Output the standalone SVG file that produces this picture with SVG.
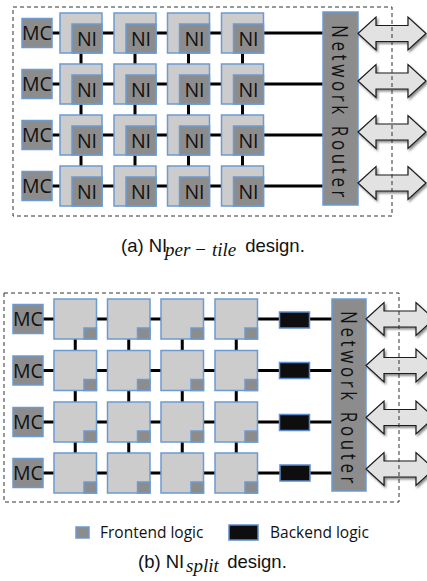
<svg xmlns="http://www.w3.org/2000/svg" xmlns:xlink="http://www.w3.org/1999/xlink" width="427" height="581" viewBox="0 0 427 581">
<style>
.tile{fill:#cccccc;stroke:#6b9bd1;stroke-width:1.5}
.ni{fill:#8c8c8c;stroke:#6b9bd1;stroke-width:1.5}
.be{fill:#0e0e0e;stroke:#5b8bd0;stroke-width:1.5}
.wire{stroke:#000;stroke-width:3;fill:none}
.arrow{fill:#e2e2e2;stroke:#1a1a1a;stroke-width:1.2;filter:url(#sh)}
.frame{fill:none;stroke:#333;stroke-width:1;stroke-dasharray:4 3}
.lbl{font-family:"Open Sans","Liberation Sans",sans-serif;font-size:19.5px;fill:#111;text-anchor:middle}
.rt{font-family:"Open Sans","Liberation Sans",sans-serif;font-size:17px;fill:#111;letter-spacing:3.6px}
.leg{font-family:"Open Sans","Liberation Sans",sans-serif;font-size:15.5px;fill:#111}
.cap{font-family:"Liberation Sans",Arial,sans-serif;font-size:18.5px;fill:#111}
.sub{font-family:"Liberation Serif","Times New Roman",serif;font-style:italic;font-size:19px}
</style>
<defs>
<filter id="sh" x="-20%" y="-20%" width="150%" height="160%">
<feDropShadow dx="1.5" dy="2" stdDeviation="1.2" flood-color="#000" flood-opacity="0.45"/>
</filter>
<path id="arr" d="M0,0 L18,-16.5 L18,-8 L50,-8 L50,-16.5 L68,0 L50,16.5 L50,8 L18,8 L18,16.5 Z"/>
</defs>

<!-- connectors -->
<g id="connectors" class="wire">
<path d="M52,33H323M52,84H323M52,135H323M52,186H323"/>
<path d="M81,33V186M135,33V186M188.5,33V186M242.5,33V186"/>
<path d="M43,319H332M43,370.5H332M43,422H332M43,473H332"/>
<path d="M75.25,319V473M128.75,319V473M182.25,319V473M236.25,319V473"/>
</g>

<!-- top panel: MC -->
<g id="a-mc1"><rect class="ni" x="22" y="18.5" width="30" height="29"/><text class="lbl" x="37" y="40">MC</text></g>
<g id="a-mc2"><rect class="ni" x="22" y="69.5" width="30" height="29"/><text class="lbl" x="37" y="91">MC</text></g>
<g id="a-mc3"><rect class="ni" x="22" y="120.5" width="30" height="29"/><text class="lbl" x="37" y="142">MC</text></g>
<g id="a-mc4"><rect class="ni" x="22" y="171.5" width="30" height="29"/><text class="lbl" x="37" y="193">MC</text></g>

<!-- top panel tiles -->
<g id="a-t11"><rect class="tile" x="60" y="13" width="42" height="40"/><rect class="ni" x="72" y="24" width="30" height="29"/><text class="lbl" x="87" y="45.5">NI</text></g>
<g id="a-t12"><rect class="tile" x="114" y="13" width="42" height="40"/><rect class="ni" x="126" y="24" width="30" height="29"/><text class="lbl" x="141" y="45.5">NI</text></g>
<g id="a-t13"><rect class="tile" x="167.5" y="13" width="42" height="40"/><rect class="ni" x="179.5" y="24" width="30" height="29"/><text class="lbl" x="194.5" y="45.5">NI</text></g>
<g id="a-t14"><rect class="tile" x="221.5" y="13" width="42" height="40"/><rect class="ni" x="233.5" y="24" width="30" height="29"/><text class="lbl" x="248.5" y="45.5">NI</text></g>

<g id="a-t21"><rect class="tile" x="60" y="64" width="42" height="40"/><rect class="ni" x="72" y="75" width="30" height="29"/><text class="lbl" x="87" y="96.5">NI</text></g>
<g id="a-t22"><rect class="tile" x="114" y="64" width="42" height="40"/><rect class="ni" x="126" y="75" width="30" height="29"/><text class="lbl" x="141" y="96.5">NI</text></g>
<g id="a-t23"><rect class="tile" x="167.5" y="64" width="42" height="40"/><rect class="ni" x="179.5" y="75" width="30" height="29"/><text class="lbl" x="194.5" y="96.5">NI</text></g>
<g id="a-t24"><rect class="tile" x="221.5" y="64" width="42" height="40"/><rect class="ni" x="233.5" y="75" width="30" height="29"/><text class="lbl" x="248.5" y="96.5">NI</text></g>

<g id="a-t31"><rect class="tile" x="60" y="115" width="42" height="40"/><rect class="ni" x="72" y="126" width="30" height="29"/><text class="lbl" x="87" y="147.5">NI</text></g>
<g id="a-t32"><rect class="tile" x="114" y="115" width="42" height="40"/><rect class="ni" x="126" y="126" width="30" height="29"/><text class="lbl" x="141" y="147.5">NI</text></g>
<g id="a-t33"><rect class="tile" x="167.5" y="115" width="42" height="40"/><rect class="ni" x="179.5" y="126" width="30" height="29"/><text class="lbl" x="194.5" y="147.5">NI</text></g>
<g id="a-t34"><rect class="tile" x="221.5" y="115" width="42" height="40"/><rect class="ni" x="233.5" y="126" width="30" height="29"/><text class="lbl" x="248.5" y="147.5">NI</text></g>

<g id="a-t41"><rect class="tile" x="60" y="166" width="42" height="40"/><rect class="ni" x="72" y="177" width="30" height="29"/><text class="lbl" x="87" y="198.5">NI</text></g>
<g id="a-t42"><rect class="tile" x="114" y="166" width="42" height="40"/><rect class="ni" x="126" y="177" width="30" height="29"/><text class="lbl" x="141" y="198.5">NI</text></g>
<g id="a-t43"><rect class="tile" x="167.5" y="166" width="42" height="40"/><rect class="ni" x="179.5" y="177" width="30" height="29"/><text class="lbl" x="194.5" y="198.5">NI</text></g>
<g id="a-t44"><rect class="tile" x="221.5" y="166" width="42" height="40"/><rect class="ni" x="233.5" y="177" width="30" height="29"/><text class="lbl" x="248.5" y="198.5">NI</text></g>

<!-- top router -->
<g id="a-router"><rect class="ni" x="323" y="12" width="35" height="193"/><text class="rt" transform="translate(332,25) rotate(90) scale(1,1.3)">Network Router</text></g>

<!-- top arrows -->
<g id="a-arrows">
<use href="#arr" class="arrow" transform="translate(358,33.5)"/>
<use href="#arr" class="arrow" transform="translate(358,81)"/>
<use href="#arr" class="arrow" transform="translate(358,132)"/>
<use href="#arr" class="arrow" transform="translate(358,183)"/>
</g>

<rect id="a-frame" class="frame" x="13" y="7" width="379" height="209"/>

<text id="a-caption" class="cap" x="121" y="252">(a) NI<tspan class="sub" x="165" y="256">per</tspan><tspan class="sub" x="194" y="256">−</tspan><tspan class="sub" x="212" y="256">tile</tspan><tspan x="240" y="252"> design.</tspan></text>

<!-- bottom panel: MC -->
<g id="b-mc1"><rect class="ni" x="13" y="304.5" width="30" height="29"/><text class="lbl" x="28" y="326">MC</text></g>
<g id="b-mc2"><rect class="ni" x="13" y="356" width="30" height="29"/><text class="lbl" x="28" y="377.5">MC</text></g>
<g id="b-mc3"><rect class="ni" x="13" y="407.5" width="30" height="29"/><text class="lbl" x="28" y="429">MC</text></g>
<g id="b-mc4"><rect class="ni" x="13" y="458.5" width="30" height="29"/><text class="lbl" x="28" y="480">MC</text></g>

<!-- bottom tiles -->
<g id="b-t11"><rect class="tile" x="54" y="299" width="42.5" height="40"/><rect class="ni" x="84" y="328" width="12.5" height="11"/></g>
<g id="b-t12"><rect class="tile" x="107.5" y="299" width="42.5" height="40"/><rect class="ni" x="137.5" y="328" width="12.5" height="11"/></g>
<g id="b-t13"><rect class="tile" x="161" y="299" width="42.5" height="40"/><rect class="ni" x="191" y="328" width="12.5" height="11"/></g>
<g id="b-t14"><rect class="tile" x="215" y="299" width="42.5" height="40"/><rect class="ni" x="245" y="328" width="12.5" height="11"/></g>

<g id="b-t21"><rect class="tile" x="54" y="350.5" width="42.5" height="40"/><rect class="ni" x="84" y="379.5" width="12.5" height="11"/></g>
<g id="b-t22"><rect class="tile" x="107.5" y="350.5" width="42.5" height="40"/><rect class="ni" x="137.5" y="379.5" width="12.5" height="11"/></g>
<g id="b-t23"><rect class="tile" x="161" y="350.5" width="42.5" height="40"/><rect class="ni" x="191" y="379.5" width="12.5" height="11"/></g>
<g id="b-t24"><rect class="tile" x="215" y="350.5" width="42.5" height="40"/><rect class="ni" x="245" y="379.5" width="12.5" height="11"/></g>

<g id="b-t31"><rect class="tile" x="54" y="402" width="42.5" height="40"/><rect class="ni" x="84" y="431" width="12.5" height="11"/></g>
<g id="b-t32"><rect class="tile" x="107.5" y="402" width="42.5" height="40"/><rect class="ni" x="137.5" y="431" width="12.5" height="11"/></g>
<g id="b-t33"><rect class="tile" x="161" y="402" width="42.5" height="40"/><rect class="ni" x="191" y="431" width="12.5" height="11"/></g>
<g id="b-t34"><rect class="tile" x="215" y="402" width="42.5" height="40"/><rect class="ni" x="245" y="431" width="12.5" height="11"/></g>

<g id="b-t41"><rect class="tile" x="54" y="453" width="42.5" height="40"/><rect class="ni" x="84" y="482" width="12.5" height="11"/></g>
<g id="b-t42"><rect class="tile" x="107.5" y="453" width="42.5" height="40"/><rect class="ni" x="137.5" y="482" width="12.5" height="11"/></g>
<g id="b-t43"><rect class="tile" x="161" y="453" width="42.5" height="40"/><rect class="ni" x="191" y="482" width="12.5" height="11"/></g>
<g id="b-t44"><rect class="tile" x="215" y="453" width="42.5" height="40"/><rect class="ni" x="245" y="482" width="12.5" height="11"/></g>

<!-- backend -->
<g id="b-be1"><rect class="be" x="279.5" y="312" width="30" height="16"/></g>
<g id="b-be2"><rect class="be" x="279.5" y="362.5" width="30" height="16"/></g>
<g id="b-be3"><rect class="be" x="279.5" y="414.5" width="30" height="16"/></g>
<g id="b-be4"><rect class="be" x="280" y="465" width="30" height="16"/></g>

<!-- bottom router -->
<g id="b-router"><rect class="ni" x="332" y="299" width="34" height="192"/><text class="rt" transform="translate(341,311) rotate(90) scale(1,1.3)">Network Router</text></g>

<g id="b-arrows">
<use href="#arr" class="arrow" transform="translate(366,319)"/>
<use href="#arr" class="arrow" transform="translate(366,365.5)"/>
<use href="#arr" class="arrow" transform="translate(366,417.5)"/>
<use href="#arr" class="arrow" transform="translate(366,469)"/>
</g>

<rect id="b-frame" class="frame" x="4" y="293" width="395" height="209"/>

<!-- legend -->
<g id="legend-frontend"><rect class="ni" x="76" y="527" width="13" height="11"/><text class="leg" x="100" y="537.5">Frontend logic</text></g>
<g id="legend-backend"><rect class="be" x="229" y="525" width="29" height="15"/><text class="leg" x="270" y="537.5">Backend logic</text></g>

<text id="b-caption" class="cap" x="138" y="568">(b) NI<tspan class="sub" x="186" y="572">split</tspan><tspan x="222" y="568"> design.</tspan></text>
</svg>
